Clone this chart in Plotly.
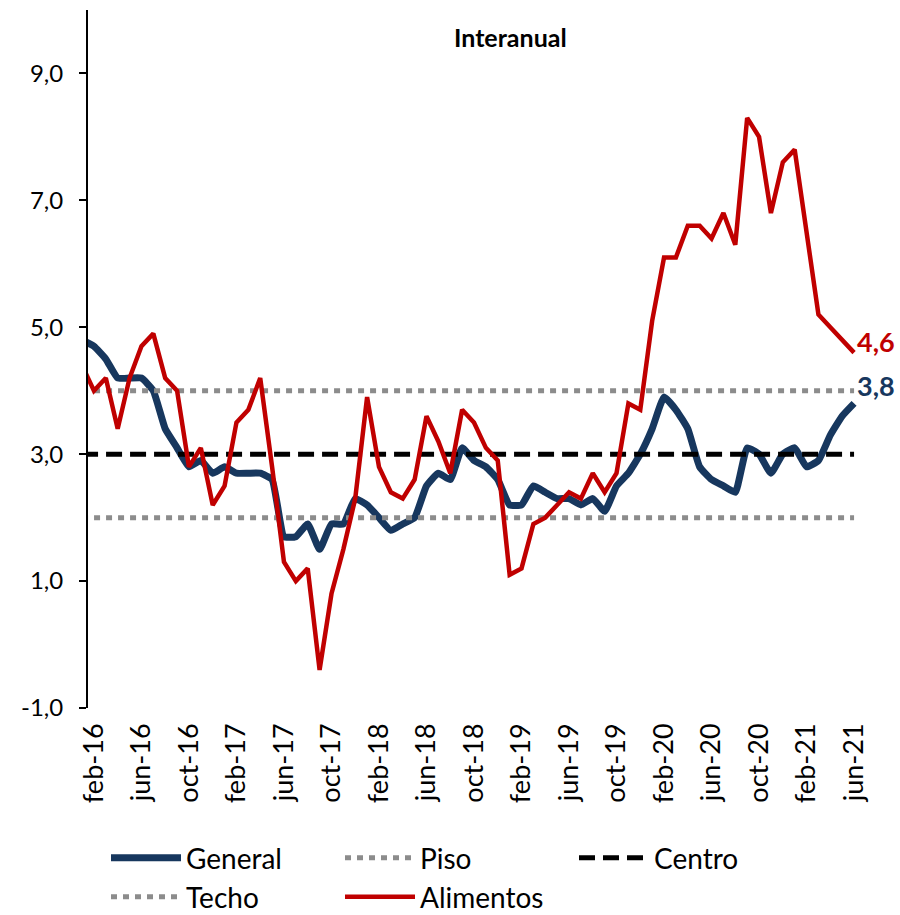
import plotly.graph_objects as go

# ---- data -------------------------------------------------------------
months = [
    "ene-16", "feb-16", "mar-16", "abr-16", "may-16", "jun-16", "jul-16", "ago-16", "sep-16", "oct-16", "nov-16", "dic-16",
    "ene-17", "feb-17", "mar-17", "abr-17", "may-17", "jun-17", "jul-17", "ago-17", "sep-17", "oct-17", "nov-17", "dic-17",
    "ene-18", "feb-18", "mar-18", "abr-18", "may-18", "jun-18", "jul-18", "ago-18", "sep-18", "oct-18", "nov-18", "dic-18",
    "ene-19", "feb-19", "mar-19", "abr-19", "may-19", "jun-19", "jul-19", "ago-19", "sep-19", "oct-19", "nov-19", "dic-19",
    "ene-20", "feb-20", "mar-20", "abr-20", "may-20", "jun-20", "jul-20", "ago-20", "sep-20", "oct-20", "nov-20", "dic-20",
    "ene-21", "feb-21", "mar-21", "abr-21", "may-21", "jun-21",
]

general = [
    4.8, 4.7, 4.5, 4.2, 4.2, 4.2, 4.0, 3.4, 3.1, 2.8, 2.9, 2.7,
    2.8, 2.7, 2.7, 2.7, 2.6, 1.7, 1.7, 1.9, 1.5, 1.9, 1.9, 2.3,
    2.2, 2.0, 1.8, 1.9, 2.0, 2.5, 2.7, 2.6, 3.1, 2.9, 2.8, 2.6,
    2.2, 2.2, 2.5, 2.4, 2.3, 2.3, 2.2, 2.3, 2.1, 2.5, 2.7, 3.0,
    3.4, 3.9, 3.7, 3.4, 2.8, 2.6, 2.5, 2.4, 3.1, 3.0, 2.7, 3.0,
    3.1, 2.8, 2.9, 3.3, 3.6, 3.8,
]

alimentos = [
    4.4, 4.0, 4.2, 3.4, 4.2, 4.7, 4.9, 4.2, 4.0, 2.8, 3.1, 2.2,
    2.5, 3.5, 3.7, 4.2, 2.8, 1.3, 1.0, 1.2, -0.4, 0.8, 1.5, 2.3,
    3.9, 2.8, 2.4, 2.3, 2.6, 3.6, 3.2, 2.7, 3.7, 3.5, 3.1, 2.9,
    1.1, 1.2, 1.9, 2.0, 2.2, 2.4, 2.3, 2.7, 2.4, 2.7, 3.8, 3.7,
    5.1, 6.1, 6.1, 6.6, 6.6, 6.4, 6.8, 6.3, 8.3, 8.0, 6.8, 7.6,
    7.8, 6.5, 5.2, 5.0, 4.8, 4.6,
]

piso = [2.0] * len(months)
centro = [3.0] * len(months)
techo = [4.0] * len(months)

tick_labels = ["feb-16", "jun-16", "oct-16", "feb-17", "jun-17", "oct-17", "feb-18", "jun-18",
               "oct-18", "feb-19", "jun-19", "oct-19", "feb-20", "jun-20", "oct-20", "feb-21", "jun-21"]
y_ticks = [-1, 1, 3, 5, 7, 9]
y_tick_labels = ["-1,0", "1,0", "3,0", "5,0", "7,0", "9,0"]

# ---- figure -----------------------------------------------------------
x = list(range(len(months)))
tick_vals = [months.index(t) for t in tick_labels]

NAVY = "#17375E"
RED = "#C00000"
GRAY = "#8C8C8C"
FONT = "Lato"

fig = go.Figure()
fig.add_trace(go.Scatter(x=x, y=general, name="General", mode="lines",
                         line=dict(color=NAVY, width=7, shape="spline", smoothing=0.4),
                         legend="legend"))
fig.add_trace(go.Scatter(x=x, y=piso, name="Piso", mode="lines",
                         line=dict(color=GRAY, width=5, dash="6px,6px"), legend="legend"))
fig.add_trace(go.Scatter(x=x, y=centro, name="Centro", mode="lines",
                         line=dict(color="black", width=5, dash="16px,8px"), legend="legend"))
fig.add_trace(go.Scatter(x=x, y=techo, name="Techo", mode="lines",
                         line=dict(color=GRAY, width=5, dash="6px,6px"), legend="legend2"))
fig.add_trace(go.Scatter(x=x, y=alimentos, name="Alimentos", mode="lines",
                         line=dict(color=RED, width=4.5), legend="legend2"))

fig.add_annotation(x=x[-1], y=alimentos[-1], text="<b>4,6</b>", showarrow=False,
                   xanchor="left", yanchor="middle", xshift=1, yshift=11,
                   font=dict(family=FONT, size=27, color=RED))
fig.add_annotation(x=x[-1], y=general[-1], text="<b>3,8</b>", showarrow=False,
                   xanchor="left", yanchor="middle", xshift=1, yshift=18,
                   font=dict(family=FONT, size=27, color=NAVY))
fig.add_annotation(x=(511 - 88) / 772, y=(708 - 37) / 698, xref="paper", yref="paper",
                   text="<b>Interanual</b>", showarrow=False, xanchor="center", yanchor="middle",
                   font=dict(family=FONT, size=25, color="black"))

legend_common = dict(orientation="h", xref="container", yref="container", xanchor="left",
                     yanchor="middle", font=dict(family=FONT, size=28, color="black"),
                     itemwidth=70, entrywidthmode="pixels", entrywidth=149,
                     bgcolor="rgba(0,0,0,0)", traceorder="normal")

fig.update_layout(
    width=900, height=915,
    margin=dict(l=88, r=40, t=10, b=207, autoexpand=False),
    paper_bgcolor="white", plot_bgcolor="white",
    separators=",.",
    font=dict(family=FONT, size=22, color="black"),
    showlegend=True,
    legend=dict(**legend_common, x=106 / 900, y=1 - 858 / 915),
    legend2=dict(**legend_common, x=106 / 900, y=1 - 897 / 915),
    xaxis=dict(range=[0.5, 65.5], tickmode="array", tickvals=tick_vals, ticktext=tick_labels,
               tickangle=-90, showgrid=False, zeroline=False, showline=False, ticks="",
               automargin=False,
               tickfont=dict(family=FONT, size=27, color="black"), ticklabelstandoff=9),
    yaxis=dict(range=[-1, 10], tickmode="array", tickvals=y_ticks, ticktext=y_tick_labels,
               showgrid=False, zeroline=False, showline=True, linecolor="black", linewidth=2,
               ticks="outside", ticklen=7, tickwidth=2, tickcolor="black", automargin=False,
               tickfont=dict(family=FONT, size=24, color="black"), ticklabelstandoff=11),
)

fig.write_html("out.html", config={"displayModeBar": False},
               post_script="document.body.style.margin='0';")
